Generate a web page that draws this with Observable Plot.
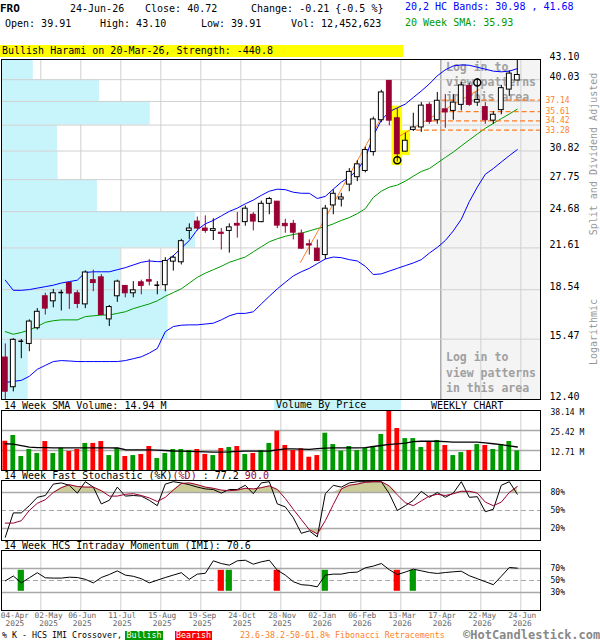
<!DOCTYPE html>
<html><head><meta charset="utf-8">
<script src="https://cdn.jsdelivr.net/npm/d3@7"></script>
<script src="https://cdn.jsdelivr.net/npm/@observablehq/plot@0.6"></script>
<style>
body{margin:0;background:#fff;}
#wrap{position:relative;width:600px;height:640px;overflow:hidden;font-family:"DejaVu Sans Mono",monospace;font-size:10px;color:#000;background:#fff;}
.t{position:absolute;white-space:pre;line-height:12px;}
.layer{position:absolute;left:0;width:600px;}
.layer svg{display:block;}
</style></head><body><div id="wrap"></div>
<script>
// ---------------- DATA ----------------
const tickIdx = [0,4,9,14,19,24,29,34,39,44,49,54,59,64];
const tickLabels = ["04-Apr\n2025","02-May\n2025","06-Jun\n2025","11-Jul\n2025","15-Aug\n2025","19-Sep\n2025","24-Oct\n2025","28-Nov\n2025","02-Jan\n2026","06-Feb\n2026","13-Mar\n2026","17-Apr\n2026","22-May\n2026","24-Jun\n2026"];

const open  = [14.46,12.97,15.35,15.2,16.1,18.1,17.77,18.35,19.0,18.3, 17.57,19.2,19.4,16.63,18.1,18.8,18.3,19.05,19.2,18.85, 18.85,20.55,20.5,23.0,23.8,23.2,23.0,22.85,23.0,23.6, 23.75,24.4,23.75,25.4,25.6,23.6,23.6,22.77,21.9,21.55, 21.05,25.25,25.8,27.25,28.0,28.65,30.7,34.5,39.85,34.75, 30.75,33.3,33.6,36.5,34.5,35.9,35.7,36.5,39.1,36.8, 36.2,34.45,35.8,38.6,39.91];
const high  = [15.2,15.5,15.45,16.6,17.3,18.3,18.56,18.51,19.0,18.48, 19.87,19.92,19.6,17.5,19.2,18.8,19.1,19.2,20.7,19.1, 20.85,21.0,22.3,23.6,24.2,24.3,24.05,23.2,23.6,24.6, 25.2,24.6,25.65,26.0,25.6,24.0,23.9,23.07,22.25,22.25, 25.25,26.75,26.4,28.9,29.75,31.25,34.9,38.5,39.9,36.0, 32.9,35.4,36.8,36.8,38.2,37.9,37.9,39.6,39.5,40.2, 36.8,35.6,39.2,41.35,43.10];
const low   = [12.4,12.75,14.4,14.77,16.0,16.9,17.35,17.15,17.25,17.3, 17.3,18.4,16.85,16.2,17.7,18.0,18.0,18.2,18.8,18.2, 18.4,19.85,20.3,22.3,23.0,22.8,22.2,21.44,21.2,22.4, 23.4,23.0,23.7,24.4,23.2,22.8,22.25,21.5,21.05,20.55, 20.7,24.4,25.1,26.55,27.55,28.45,30.25,34.2,33.8,29.6, 30.7,33.1,33.0,34.0,34.0,33.5,34.5,35.7,36.3,36.3, 34.0,34.0,35.2,37.65,39.91];
const close = [12.76,15.43,15.35,16.5,17.1,17.3,18.3,18.35,18.28,17.6, 19.75,19.0,16.9,17.4,19.1,18.3,18.5,18.8,19.1,18.85, 20.6,20.85,22.15,23.2,23.2,23.0,23.15,22.75,23.3,23.45, 24.95,23.8,25.4,25.85,23.45,23.4,22.85,21.55,21.8,20.6, 24.95,26.35,26.0,28.55,29.35,30.93,34.6,38.2,34.45,30.46, 32.0,33.6,36.4,34.3,37.05,35.5,36.8,39.2,36.5,37.15, 34.5,35.2,38.8,40.93,40.72];

const upperBand = [19.2,18.5,18.5,18.55,18.65,18.75,18.85,19.0,19.1,19.2, 19.75,19.8,19.8,19.8,19.95,20.1,20.3,20.5,20.6,20.55, 20.55,21.0,21.6,22.2,23.1,23.6,23.9,24.3,24.7,25.0, 25.4,25.75,26.2,26.6,26.8,26.75,26.5,26.4,26.4,25.9, 26.1,26.8,27.5,28.0,28.74,30.0,32.6,34.5,35.6,36.1, 36.6,37.5,38.4,39.4,40.6,41.5,42.1,42.25,42.2,41.9, 41.6,41.3,41.2,41.3,41.68];
const lowerBand = [13.2,13.25,13.3,13.5,13.85,14.05,14.25,14.3,14.28,14.25, 14.25,14.25,14.25,14.25,14.25,14.3,14.4,14.5,14.7,14.95, 15.9,16.2,16.28,16.3,16.3,16.35,16.4,16.6,16.85,17.0, 17.0,17.1,17.6,18.1,18.6,19.05,19.5,19.8,20.05,20.4, 20.75,20.9,20.85,20.7,20.6,20.2,19.6,19.65,19.85,20.05, 20.25,20.45,20.7,21.2,21.65,22.2,23.0,24.0,25.6,27.0, 28.3,28.9,29.6,30.3,30.98];
const sma20 = [15.9,15.75,15.85,16.0,16.2,16.45,16.55,16.6,16.6,16.6, 16.8,16.85,16.9,16.9,17.0,17.1,17.3,17.45,17.6,17.8, 18.1,18.35,18.6,19.0,19.4,19.7,19.95,20.2,20.5,20.7, 20.9,21.3,21.7,22.1,22.35,22.55,22.7,22.8,23.0,23.2, 23.35,23.6,23.9,24.15,24.5,24.95,26.0,26.6,27.0,27.2, 27.6,28.1,28.6,28.9,29.5,30.1,30.7,31.4,32.1,32.8, 33.5,34.1,34.7,35.3,35.93];

const volume = [18.6,22.25,8.9,13.35,10.8,18.4,10.8,14.2,12.1,13.35, 17.2,17.2,18.4,9.5,14.2,8.9,9.5,10.2,15.25,7.6, 10.8,13.35,13.35,12.7,13.35,10.2,9.5,14.0,14.6,15.25, 10.2,10.8,12.7,17.2,25.0,15.9,12.7,13.8,8.45,9.5, 23.7,16.5,12.3,15.25,12.7,14.4,14.8,22.9,37.7,26.7, 20.3,20.3,14.6,17.8,19.1,15.9,9.5,11.4,12.7,16.5, 15.9,13.35,16.5,18.4,12.45];
const volumeSma = [17.0,16.8,15.8,14.8,14.6,14.5,14.4,14.4,14.4,14.4, 14.4,14.4,14.4,14.4,14.3,13.2,13.1,13.1,13.1,12.9, 12.7,12.4,12.3,12.2,12.0,11.8,11.7,11.7,11.8,12.1, 12.3,12.3,12.3,12.4,13.1,13.8,13.8,13.6,13.4,13.9, 14.2,14.4,14.4,14.4,14.4,14.5,15.25,15.9,16.6,16.95, 17.4,18.3,18.6,18.6,18.6,18.3,18.1,18.0,18.0,18.0, 17.6,17.0,16.4,15.6,14.94];
const volTicks = [12.71, 25.42, 38.14];

const stochK = [5.5,46,46,58,72,75,94,96,92,79, 98,89,61,67,89,74,75,74,67,58, 94,98,96,93,89,86,85,79,85,85, 92,78,96,98,61,56,38,12,16,6, 78,92,89,96,98,98,98,98,78,50, 58,67,82,72,80,72,79,98,72,73, 48,52,92,98,77.2];
const stochD = [29,29,33,50,62,68,80,88,93,90, 89,89,83,74,74,77,78,75,71,65, 72,84,95,96,93,89,87,84,83,84, 87,86,88,91,85,70,52,35,18,11, 33,60,86,92,94,97,98,98,91,76, 63,58,66,74,77,75,78,82,82,79, 64,58,64,80,90];

const imi = [49.4,57.5,46,54.5,63,54.5,54,54,55.5,55, 52,46,55,60,66,59,57,53,46,50.5, 55,59,63,52,60.6,62,82.8,78.3,75.5,82.8, 83.8,77.2,81.1,83.8,67.2,59,48,43,42,39.5, 59,60.6,60.6,63.3,64,71.1,74,78.3,68,60, 64,68.9,66.1,63.3,61.7,63.3,64.5,65.5,58,53, 48,43,57,71.7,70.6];
const bullishX = [2, 28, 40, 51];
const bearishX = [27, 34, 49];

const priceTicks = [12.40,15.47,18.54,21.61,24.68,27.75,30.82,33.89,36.96,40.03,43.10];
const vbpRel = [4.95,30.9,22.1,36.0,17.8,10.5,10.4,27.6,18.2,5.9]; // bands bottom -> top, relative volume
const fibLevels = [37.14,35.61,34.42,33.28];
const fibStart = [54.6,55.6,53.4,51.4];
const trendA = [[36.9,20.5],[47,34.8]];
const trendB = [[49,32.4],[59.2,38.6]];
const haramiWeeks = [49,50];
const swingPoints = [[49,29.8],[59,39.6]];

// ---------------- STYLE ----------------
const crimson = "#990033", volRed = "#ff0000", volGreen = "#009900";
const blue = "#0000ff", green = "#009900", orange = "#ff7f27", cyan = "#c8f4fb";
const gridCol = "#d0d0d0", hGridCol = "#a8a8a8";
const W = 600, ML = 1, MR = 60;
const xDomain = [-0.475, 66.9];
const gridShift = 0.44;
const hw = 0.3;
const font = "DejaVu Sans Mono";

const weeks = d3.range(open.length).map(i => ({i, open: open[i], high: high[i], low: low[i], close: close[i],
  vol: volume[i], volSma: volumeSma[i], ub: upperBand[i], lb: lowerBand[i], sma: sma20[i],
  k: stochK[i], d: stochD[i], imi: imi[i]}));
const up = weeks.filter(d => d.close > d.open);
const down = weeks.filter(d => d.close < d.open);
const doji = weeks.filter(d => d.close === d.open);
const gridX = tickIdx.slice(1).map(t => t + gridShift);
const loginStart = tickIdx[11] + gridShift;

const wrap = document.getElementById("wrap");
function mount(svg, top) {
  const div = document.createElement("div");
  div.className = "layer"; div.style.top = top + "px";
  div.appendChild(svg); wrap.appendChild(div);
}
function txt(x, yc, s, css = "", lh = 12) {
  const d = document.createElement("div");
  d.className = "t";
  d.style.left = x + "px"; d.style.top = (yc - lh / 2) + "px"; d.style.lineHeight = lh + "px";
  d.style.cssText += css;
  d.innerHTML = s;
  wrap.appendChild(d);
  return d;
}
const base = {width: W, marginLeft: ML, marginRight: MR, style: {background: "transparent", fontFamily: font, overflow: "visible"}};
const xs = {domain: xDomain, axis: null};
const yPrice = {type: "log", domain: [priceTicks[0], priceTicks[priceTicks.length - 1]], axis: null};

// Layer A: login area + vertical grid
mount(Plot.plot({...base, height: 400, marginTop: 59, marginBottom: 1, x: xs, y: yPrice,
  marks: [
    Plot.rect([loginStart], {x1: d => d, x2: xDomain[1], y1: priceTicks[0], y2: priceTicks[priceTicks.length - 1], fill: "#f4f4f4"}),
    Plot.ruleX(gridX, {stroke: gridCol}),
    Plot.ruleX([loginStart], {stroke: "#999"})
  ]}), 0);

// Layer B: volume by price + horizontal grid
const vbpRows = vbpRel.map((v, k) => ({v, lo: priceTicks[k], hi: priceTicks[k + 1]}));
mount(Plot.plot({...base, height: 400, marginTop: 59, marginBottom: 1, x: {domain: [0, 100], axis: null}, y: yPrice,
  marks: [
    Plot.rect(vbpRows, {x1: 0, x2: "v", y1: "lo", y2: "hi", fill: cyan}),
    Plot.ruleY(priceTicks.slice(1, -1), {stroke: gridCol})
  ]}), 0);

// login texts (behind candles)
const loginCss = "font-size:11.5px;font-weight:bold;color:#a0a0a0;";
txt(446, 67, "Log in to\nview patterns\nin this area", loginCss, 15);
txt(446, 358, "Log in to\nview patterns\nin this area", loginCss, 15.5);

// Layer C: price
const hiddenTicks = priceTicks.filter(t => fibLevels.some(f => Math.abs(f - t) < 1));
mount(Plot.plot({...base, height: 400, marginTop: 59, marginBottom: 1, x: xs, y: yPrice,
  marks: [
    Plot.rect(weeks.filter(d => haramiWeeks.includes(d.i)).reverse(), {x1: d => d.i - 0.66, x2: d => d.i + 0.66, y1: "low", y2: "high", fill: "#ffff00", insetTop: -2.5, insetBottom: -3.5}),
    Plot.line(weeks, {x: "i", y: "ub", stroke: blue, strokeWidth: 1}),
    Plot.line(weeks, {x: "i", y: "lb", stroke: blue, strokeWidth: 1}),
    Plot.line(weeks, {x: "i", y: "sma", stroke: green, strokeWidth: 1}),
    Plot.line(trendA, {x: d => d[0], y: d => d[1], stroke: orange, strokeWidth: 1}),
    Plot.line(trendB, {x: d => d[0], y: d => d[1], stroke: orange, strokeWidth: 1}),
    Plot.ruleY(fibLevels, {y: d => d, x1: (d, j) => fibStart[j], x2: xDomain[1], stroke: orange, strokeWidth: 1.3, strokeDasharray: "5,3"}),
    Plot.ruleX(up.concat(doji), {x: "i", y1: "low", y2: "high", stroke: "black"}),
    Plot.ruleX(down, {x: "i", y1: "low", y2: "high", stroke: crimson}),
    Plot.rect(up, {x1: d => d.i - hw, x2: d => d.i + hw, y1: "open", y2: "close", fill: "white", stroke: "black"}),
    Plot.rect(down, {x1: d => d.i - hw, x2: d => d.i + hw, y1: "open", y2: "close", fill: crimson, stroke: crimson}),
    Plot.ruleY(doji, {y: "close", x1: d => d.i - hw, x2: d => d.i + hw, stroke: "black", strokeWidth: 1.5}),
    Plot.dot(swingPoints, {x: d => d[0], y: d => d[1], r: 3.5, stroke: "black", fill: "none"}),
    Plot.frame({stroke: "black"}),
    Plot.text(priceTicks.filter(t => !hiddenTicks.includes(t)), {y: d => d, text: d => d.toFixed(2), frameAnchor: "right", dx: 9, dy: -3, textAnchor: "start", fontSize: 10, fill: "black"}),
    Plot.text(fibLevels, {y: d => d, text: d => d.toFixed(2), frameAnchor: "right", dx: 5, textAnchor: "start", fontSize: 8, fill: orange})
  ]}), 0);

// Volume panel
mount(Plot.plot({...base, height: 75, marginTop: 10, marginBottom: 5, x: xs, y: {domain: [0, volTicks[2]], axis: null},
  marks: [
    Plot.ruleX(gridX, {stroke: gridCol}),
    Plot.ruleY(volTicks.slice(0, 2), {stroke: hGridCol, strokeWidth: 1.5}),
    Plot.rect(weeks.filter(d => d.close >= d.open), {x1: d => d.i - hw, x2: d => d.i + hw, y1: 0, y2: "vol", fill: volGreen}),
    Plot.rect(weeks.filter(d => d.close < d.open), {x1: d => d.i - hw, x2: d => d.i + hw, y1: 0, y2: "vol", fill: volRed}),
    Plot.line(weeks, {x: "i", y: "volSma", stroke: "black", strokeWidth: 1.3}),
    Plot.frame({stroke: "black"}),
    Plot.text(volTicks, {y: d => d, text: d => d.toFixed(2) + " M", frameAnchor: "right", dx: 10, dy: 1.5, textAnchor: "start", fontSize: 8, fill: "black"})
  ]}), 400);

// Stochastic panel
mount(Plot.plot({...base, height: 71, marginTop: 10, marginBottom: 1, x: xs, y: {domain: [0, 100], axis: null},
  marks: [
    Plot.ruleX(gridX, {stroke: gridCol}),
    Plot.areaY(weeks, {x: "i", y1: 80, y2: d => Math.max(d.d, 80), fill: "#cccc99"}),
    Plot.areaY(weeks, {x: "i", y1: 20, y2: d => Math.min(d.d, 20), fill: "#cccc99"}),
    Plot.ruleY([20, 80], {stroke: hGridCol, strokeWidth: 1.5}),
    Plot.ruleY([50], {stroke: hGridCol, strokeWidth: 1.2, strokeDasharray: "5,3"}),
    Plot.line(weeks, {x: "i", y: "k", stroke: "black", strokeWidth: 1}),
    Plot.line(weeks, {x: "i", y: "d", stroke: crimson, strokeWidth: 1}),
    Plot.frame({stroke: "black"}),
    Plot.text([80, 50, 20], {y: d => d, text: d => d + "%", frameAnchor: "right", dx: 10, textAnchor: "start", fontSize: 8, fill: "black"})
  ]}), 470);

// IMI panel
const tickRows = tickIdx.map((t, j) => ({t, label: tickLabels[j]}));
const labelNudge = tickIdx.map((t, j) => j === 1 ? 0.8 : 0); // second label pushed right to clear the first
mount(Plot.plot({...base, height: 100, marginTop: 10, marginBottom: 30, x: xs, y: {domain: [0, 100], axis: null},
  marks: [
    Plot.ruleX(gridX, {stroke: gridCol}),
    Plot.ruleY([30, 70], {stroke: hGridCol, strokeWidth: 1.5}),
    Plot.ruleY([50], {stroke: hGridCol, strokeWidth: 1.2, strokeDasharray: "5,3"}),
    Plot.rect(bullishX, {x1: d => d - 0.39, x2: d => d + 0.39, y1: 32, y2: 67, fill: volGreen}),
    Plot.rect(bearishX, {x1: d => d - 0.39, x2: d => d + 0.39, y1: 32, y2: 67, fill: volRed}),
    Plot.line(weeks, {x: "i", y: "imi", stroke: "black", strokeWidth: 1}),
    Plot.frame({stroke: "black"}),
    Plot.text([70, 50, 30], {y: d => d, text: d => d + "%", frameAnchor: "right", dx: 10, textAnchor: "start", fontSize: 8, fill: "black"}),
    Plot.text(tickRows.slice(1), {x: (d, j) => d.t + gridShift + labelNudge[j + 1], text: "label", frameAnchor: "bottom", lineAnchor: "top", dy: 2, dx: 1.4, fontSize: 7.8, fill: "#666", lineHeight: 1.0}),
    Plot.text(tickRows.slice(0, 1), {x: d => d.t + 1.2, text: "label", frameAnchor: "bottom", lineAnchor: "top", dy: 2, fontSize: 7.8, fill: "#666", lineHeight: 1.0})
  ]}), 540);

// ---------------- HTML TEXT ----------------
txt(0, 9, "FRO", "font-weight:bold;font-size:11px;");
txt(70, 9, "24-Jun-26");
txt(145, 9, "Close: 40.72");
txt(251, 9, "Change: -0.21 {-0.5 %}");
txt(5, 24, "Open: 39.91");
txt(100, 24, "High: 43.10");
txt(201, 24, "Low: 39.91");
txt(291, 24, "Vol: 12,452,623");
txt(405, 7, "20,2 HC Bands: 30.98 , 41.68", "color:" + blue + ";");
txt(405, 22.5, "20 Week SMA: 35.93", "color:" + green + ";");
txt(0, 51, "Bullish Harami on 20-Mar-26, Strength: -440.8", "background:#ffff00;width:401px;padding-left:2px;", 12);

// side rotated texts
const rot = "color:#999;transform:translate(-50%,-50%) rotate(-90deg);";
txt(594, 160, "Split and Dividend Adjusted", rot);
txt(594, 338, "Logarithmic", rot);

// panel titles
txt(4, 405.5, "14 Week SMA Volume: 14.94 M");
txt(274, 405, "Volume By Price", "background:" + cyan + ";width:125px;padding-left:2px;", 10);
txt(431, 405.5, "WEEKLY CHART");
txt(4, 475.5, '14 Week Fast Stochastic (%K)<span style="color:' + crimson + '">(%D)</span> : 77.2 <span style="color:' + crimson + '">90.0</span>');
txt(4, 545.5, "14 Week HCS Intraday Momentum (IMI): 70.6");

// footer
const fs = "font-size:8.3px;";
txt(2, 635, "% K - HCS IMI Crossover,", fs, 9);
txt(125, 635, "Bullish", fs + "background:" + volGreen + ";color:#fff;width:38px;text-align:center;", 9);
txt(175, 635, "Bearish", fs + "background:" + volRed + ";color:#fff;width:37px;text-align:center;", 9);
txt(240, 635, "23.6-38.2-50-61.8% Fibonacci Retracements", fs + "color:" + orange + ";", 9);
txt(463, 635, "©HotCandlestick.com", "font-size:12px;font-weight:bold;color:#888;", 11);
</script></body></html>
